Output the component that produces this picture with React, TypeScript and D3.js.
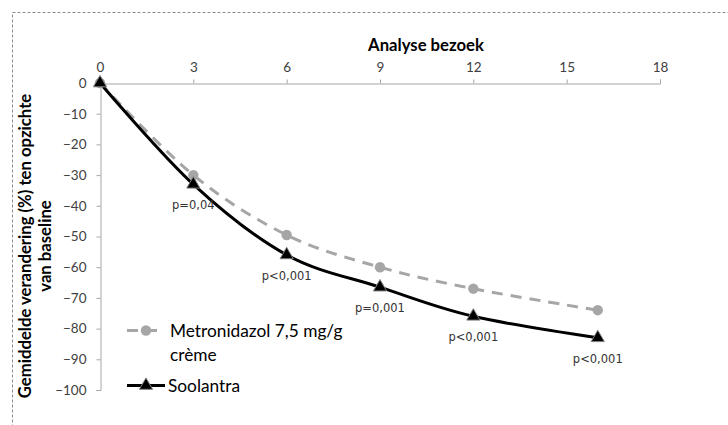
import * as d3 from 'd3';
import { useEffect, useRef } from 'react';

const visits = [0, 3, 6, 9, 12, 16];
const metronidazol = [0, -30, -49.5, -60, -67, -74];
const soolantra = [0, -33, -56, -66.5, -76, -83];
const pLabels = ['', 'p=0,04', 'p<0,001', 'p=0,001', 'p<0,001', 'p<0,001'];
const xTicks = [0, 3, 6, 9, 12, 15, 18];
const yTicks = [0, -10, -20, -30, -40, -50, -60, -70, -80, -90, -100];

const FONT = 'Lato, "Open Sans", sans-serif';

const App = () => {
  const ref = useRef<SVGSVGElement | null>(null);

  useEffect(() => {
    if (!ref.current) return;
    const svg = d3.select(ref.current);
    svg.selectAll('*').remove();

    const width = 728;
    const height = 425;
    svg.attr('width', width).attr('height', height);

    svg.append('rect')
      .attr('x', 12.5).attr('y', 12.5)
      .attr('width', 800).attr('height', 600)
      .attr('fill', 'none')
      .attr('stroke', '#8c8c8c')
      .attr('stroke-dasharray', '3,2');

    const x = d3.scaleLinear().domain([0, 18]).range([100, 660]);
    const y = d3.scaleLinear().domain([0, -100]).range([83, 390]);

    // x axis sits on top of the plot
    const xAxis = svg.append('g')
      .attr('transform', 'translate(0,83.5)')
      .call(d3.axisTop(x).tickValues(xTicks).tickSize(4).tickPadding(8));
    const yAxis = svg.append('g')
      .attr('transform', 'translate(100.5,0)')
      .call(d3.axisLeft(y).tickValues(yTicks).tickSize(4).tickPadding(10));
    [xAxis, yAxis].forEach(a => {
      a.select('.domain').attr('stroke', '#a6a6a6');
      a.selectAll('.tick line').attr('stroke', '#a6a6a6');
      a.selectAll('.tick text')
        .attr('fill', '#404040')
        .attr('font-family', FONT)
        .attr('font-size', 13.5);
    });

    svg.append('text')
      .attr('x', 426).attr('y', 51)
      .attr('text-anchor', 'middle')
      .attr('font-family', FONT)
      .attr('font-weight', 'bold')
      .attr('font-size', 16.7)
      .attr('fill', '#000')
      .text('Analyse bezoek');

    const yTitle = svg.append('text')
      .attr('transform', 'translate(31,246) rotate(-90)')
      .attr('text-anchor', 'middle')
      .attr('font-family', FONT)
      .attr('font-weight', 'bold')
      .attr('font-size', 16.7)
      .attr('fill', '#000');
    yTitle.append('tspan').attr('x', 0).attr('dy', 0).text('Gemiddelde verandering (%) ten opzichte');
    yTitle.append('tspan').attr('x', 0).attr('dy', 20).text('van baseline');

    const line = d3.line<number>()
      .x((_, i) => x(visits[i]))
      .y(d => y(d))
      .curve(d3.curveCardinal.tension(0));

    svg.append('path')
      .attr('d', line(metronidazol))
      .attr('fill', 'none')
      .attr('stroke', '#a6a6a6')
      .attr('stroke-width', 3)
      .attr('stroke-dasharray', '11,8');

    svg.append('path')
      .attr('d', line(soolantra))
      .attr('fill', 'none')
      .attr('stroke', '#000')
      .attr('stroke-width', 3);

    const circle = d3.symbol().type(d3.symbolCircle).size(85);
    const tri = d3.symbol().type(d3.symbolTriangle).size(75);

    svg.selectAll('.mc')
      .data(metronidazol)
      .enter()
      .append('path')
      .attr('d', circle())
      .attr('transform', (d, i) => `translate(${x(visits[i])},${y(d)})`)
      .attr('fill', '#a6a6a6');

    svg.selectAll('.st')
      .data(soolantra)
      .enter()
      .append('path')
      .attr('d', tri())
      .attr('transform', (d, i) => `translate(${x(visits[i])},${y(d)})`)
      .attr('fill', '#000')
      .attr('stroke', '#7f7f7f')
      .attr('stroke-width', 1);

    svg.selectAll('.pl')
      .data(soolantra)
      .enter()
      .append('text')
      .attr('x', (_, i) => x(visits[i]))
      .attr('y', d => y(d) + 25)
      .attr('text-anchor', 'middle')
      .attr('font-family', '"DejaVu Sans", Verdana, sans-serif')
      .attr('font-size', 11.5)
      .attr('fill', '#333')
      .text((_, i) => pLabels[i]);

    // legend
    const lg = svg.append('g');
    lg.append('line')
      .attr('x1', 127).attr('x2', 165).attr('y1', 330.5).attr('y2', 330.5)
      .attr('stroke', '#a6a6a6').attr('stroke-width', 3).attr('stroke-dasharray', '11,8');
    lg.append('path').attr('d', circle()).attr('transform', 'translate(146,330.5)').attr('fill', '#a6a6a6');
    const lt = lg.append('text')
      .attr('font-family', FONT).attr('font-size', 17.3).attr('fill', '#000');
    lt.append('tspan').attr('x', 170).attr('y', 336.5).text('Metronidazol 7,5 mg/g');
    lt.append('tspan').attr('x', 170).attr('y', 361).text('crème');

    lg.append('line')
      .attr('x1', 127).attr('x2', 165).attr('y1', 385.5).attr('y2', 385.5)
      .attr('stroke', '#000').attr('stroke-width', 3);
    lg.append('path').attr('d', tri()).attr('transform', 'translate(146,385.5)')
      .attr('fill', '#000').attr('stroke', '#7f7f7f').attr('stroke-width', 1);
    lg.append('text')
      .attr('x', 168).attr('y', 391.5)
      .attr('font-family', FONT).attr('font-size', 17.3).attr('fill', '#000')
      .text('Soolantra');
  }, []);

  return (
    <div style={{ position: 'absolute', left: 0, top: 0 }}>
      <svg ref={ref} style={{ display: 'block', background: '#fff' }} />
    </div>
  );
};

export default App;
